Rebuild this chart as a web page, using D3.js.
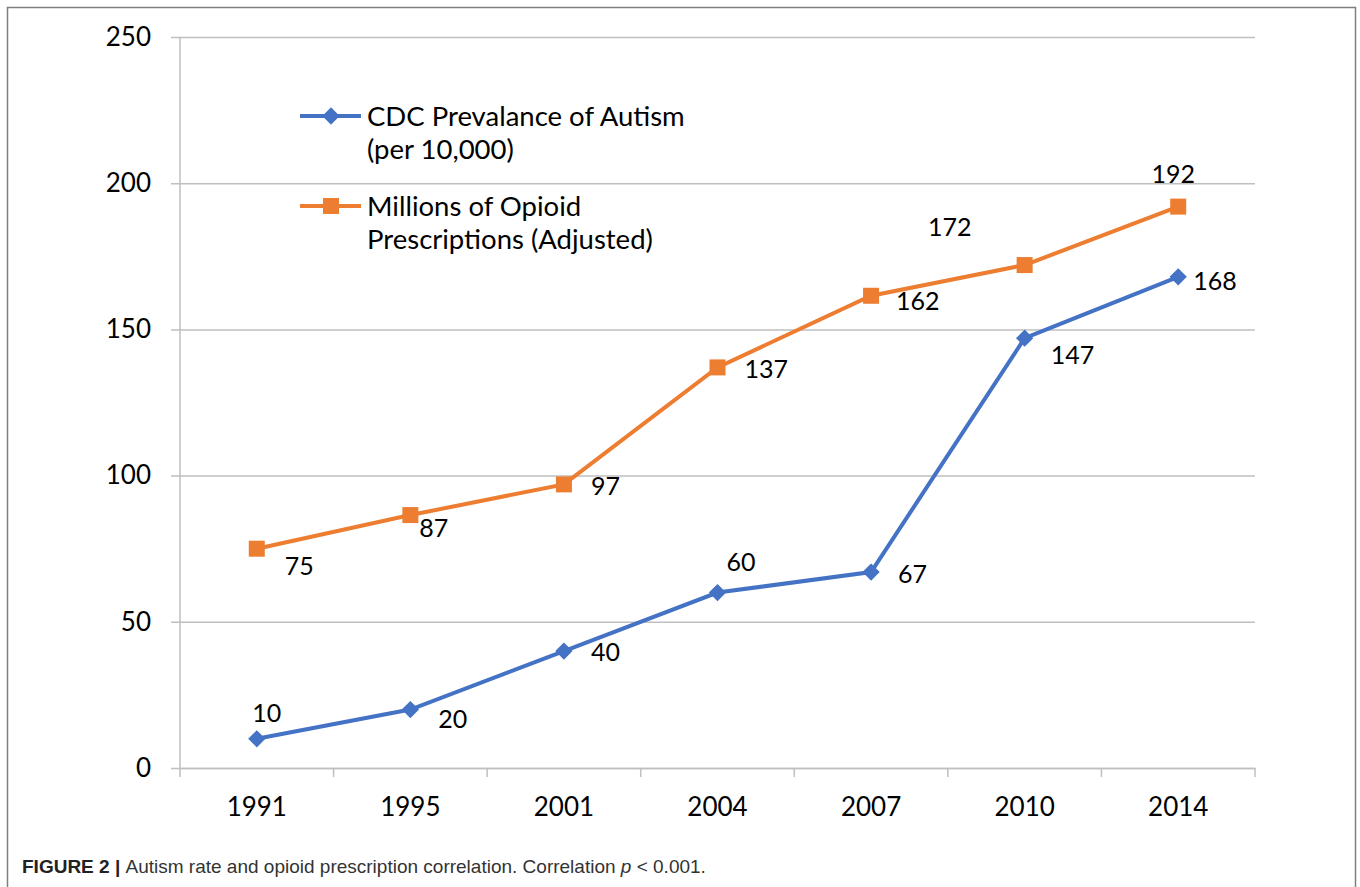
<!DOCTYPE html>
<html>
<head>
<meta charset="utf-8">
<script src="https://cdn.jsdelivr.net/npm/d3@7"></script>
<style>
  body { margin: 0; background: #fff; }
  svg { display: block; }
</style>
</head>
<body>
<div id="chart"></div>
<script>
// Data
const years = ["1991", "1995", "2001", "2004", "2007", "2010", "2014"];
const autism = [10, 20, 40, 60, 67, 147, 168];
const opioid = [75, 86.5, 97, 137, 161.5, 172, 192];
const autismLabels = ["10", "20", "40", "60", "67", "147", "168"];
const opioidLabels = ["75", "87", "97", "137", "162", "172", "192"];
const yTicks = [0, 50, 100, 150, 200, 250];

// label offsets relative to the marker (dx, dy to baseline), like Excel placed them
const autismOff = [[10, -17, "middle"], [28, 18, "start"], [27, 10, "start"], [9, -22, "start"], [27, 11, "start"], [26, 26, "start"], [15, 13, "start"]];
const opioidOff = [[28, 26, "start"], [9, 22, "start"], [27, 11, "start"], [27, 11, "start"], [25, 14, "start"], [-75, -29, "middle"], [-5, -24, "middle"]];

const W = 1360, H = 887;
const plot = {left: 180, right: 1255, top: 37, bottom: 768};

const svg = d3.select("#chart").append("svg").attr("width", W).attr("height", H);

// outer frame
svg.append("rect")
  .attr("x", 7.5).attr("y", 7.5)
  .attr("width", 1348).attr("height", H + 20)
  .attr("fill", "none").attr("stroke", "#7f7f7f").attr("stroke-width", 1.5);

const x = d3.scaleBand().domain(years).range([plot.left, plot.right]).padding(0);
const y = d3.scaleLinear().domain([0, 250]).range([plot.bottom, plot.top]);
const cx = (d, i) => x(years[i]) + x.bandwidth() / 2;

const fontMain = "Lato, 'Open Sans', sans-serif";

// Y axis with gridlines
svg.append("g")
  .attr("transform", `translate(171,0)`)
  .call(d3.axisLeft(y).tickValues(yTicks).tickSize(-(plot.right - 171)).tickPadding(20))
  .call((g) => g.select(".domain").remove())
  .call((g) => g.selectAll(".tick line").attr("stroke", "#bfbfbf").attr("stroke-width", 1.5))
  .call((g) => g.selectAll(".tick text")
    .attr("fill", "#000").style("font-size", "26px").style("font-family", fontMain));

// vertical axis line
svg.append("line")
  .attr("x1", plot.left).attr("x2", plot.left)
  .attr("y1", plot.top).attr("y2", plot.bottom)
  .attr("stroke", "#bfbfbf").attr("stroke-width", 1.5);

// X axis: labels centered in bands, ticks on band edges
svg.append("g")
  .attr("transform", `translate(0,${plot.bottom})`)
  .call(d3.axisBottom(x).tickSize(0).tickPadding(30))
  .call((g) => g.select(".domain").attr("stroke", "#bfbfbf").attr("stroke-width", 1.5))
  .call((g) => g.selectAll(".tick text")
    .attr("fill", "#000").style("font-size", "26px").style("font-family", fontMain));

const edges = years.map((d) => x(d)).concat([plot.right]);
svg.append("g")
  .selectAll("line")
  .data(edges)
  .join("line")
  .attr("x1", (d) => d).attr("x2", (d) => d)
  .attr("y1", plot.bottom).attr("y2", plot.bottom + 9)
  .attr("stroke", "#bfbfbf").attr("stroke-width", 1.5);

const line = d3.line().x(cx).y((d) => y(d));

const blue = "#4472c4", orange = "#ed7d31";

// Opioid series
svg.append("path").datum(opioid)
  .attr("fill", "none").attr("stroke", orange).attr("stroke-width", 4).attr("d", line);
svg.append("g").selectAll("rect").data(opioid).join("rect")
  .attr("x", (d, i) => cx(d, i) - 8).attr("y", (d) => y(d) - 8)
  .attr("width", 16).attr("height", 16).attr("fill", orange);

// Autism series
svg.append("path").datum(autism)
  .attr("fill", "none").attr("stroke", blue).attr("stroke-width", 4).attr("d", line);
const diamond = d3.symbol().type(d3.symbolDiamond2).size(190);
svg.append("g").selectAll("path").data(autism).join("path")
  .attr("d", diamond)
  .attr("transform", (d, i) => `translate(${cx(d, i)},${y(d)})`)
  .attr("fill", blue);

// Data labels
function addLabels(values, labels, offs) {
  svg.append("g").selectAll("text").data(values).join("text")
    .attr("x", (d, i) => cx(d, i) + offs[i][0])
    .attr("y", (d, i) => y(d) + offs[i][1])
    .attr("text-anchor", (d, i) => offs[i][2])
    .style("font-size", "25px").style("font-family", fontMain)
    .attr("fill", "#000")
    .text((d, i) => labels[i]);
}
addLabels(autism, autismLabels, autismOff);
addLabels(opioid, opioidLabels, opioidOff);

// Legend
const legendData = [
  {lines: ["CDC Prevalance of Autism", "(per 10,000)"], color: blue, marker: "diamond"},
  {lines: ["Millions of Opioid", "Prescriptions (Adjusted)"], color: orange, marker: "square"},
];
const legend = svg.append("g").attr("transform", "translate(300,116)");
legend.selectAll("g").data(legendData).join("g")
  .attr("transform", (d, i) => `translate(0,${i * 90})`)
  .each(function (d) {
    const g = d3.select(this);
    g.append("line").attr("x1", 0).attr("x2", 61).attr("y1", 0).attr("y2", 0)
      .attr("stroke", d.color).attr("stroke-width", 4);
    if (d.marker === "diamond") {
      g.append("path").attr("d", diamond).attr("transform", "translate(31,0)").attr("fill", d.color);
    } else {
      g.append("rect").attr("x", 23).attr("y", -8).attr("width", 16).attr("height", 16).attr("fill", d.color);
    }
    g.selectAll("text").data(d.lines).join("text")
      .attr("x", 67).attr("y", (t, j) => 10 + j * 33)
      .style("font-size", "27.5px").style("font-family", fontMain)
      .attr("fill", "#000")
      .text((t) => t);
  });

// Caption
const cap = svg.append("text")
  .attr("x", 22).attr("y", 873)
  .style("font-family", "'Liberation Sans', Arial, sans-serif")
  .style("font-size", "19px")
  .attr("fill", "#333");
cap.append("tspan").attr("font-weight", "bold").attr("fill", "#222").text("FIGURE 2 | ");
cap.append("tspan").text("Autism rate and opioid prescription correlation. Correlation ");
cap.append("tspan").attr("font-style", "italic").text("p");
cap.append("tspan").text(" < 0.001.");
</script>
</body>
</html>
